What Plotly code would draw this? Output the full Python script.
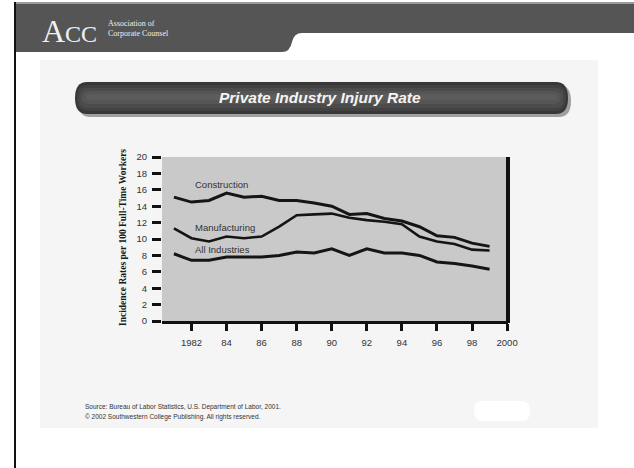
import plotly.graph_objects as go

# ---- data ----
years = list(range(1981, 2000))
construction = [15.1, 14.5, 14.7, 15.6, 15.1, 15.2, 14.7, 14.7, 14.4, 14.0,
                13.0, 13.1, 12.5, 12.2, 11.5, 10.4, 10.2, 9.5, 9.1]
manufacturing = [11.3, 10.1, 9.7, 10.3, 10.1, 10.3, 11.5, 12.9, 13.0, 13.1,
                 12.6, 12.3, 12.1, 11.8, 10.3, 9.7, 9.4, 8.7, 8.6]
all_industries = [8.2, 7.4, 7.4, 7.8, 7.8, 7.8, 8.0, 8.4, 8.3, 8.8,
                  8.0, 8.8, 8.3, 8.3, 8.0, 7.2, 7.0, 6.7, 6.3]
series_names = ["Construction", "Manufacturing", "All Industries"]
label_y = [16.6, 11.4, 8.7]
x_tickvals = [1982, 1984, 1986, 1988, 1990, 1992, 1994, 1996, 1998, 2000]
x_ticktext = ["1982", "84", "86", "88", "90", "92", "94", "96", "98", "2000"]
y_tickvals = [0, 2, 4, 6, 8, 10, 12, 14, 16, 18, 20]
title_text = "Private Industry Injury Rate"
y_title = "Incidence Rates per 100 Full-Time Workers"
source_lines = ["Source: Bureau of Labor Statistics, U.S. Department of Labor, 2001.",
                "\u00a9 2002 Southwestern College Publishing. All rights reserved."]

# ---- layout geometry (pixels) ----
FW, FH = 634, 468
L, R, T, B = 162, 508, 157, 321
PW, PH = R - L, B - T


def px(x):
    return (x - L) / PW


def py(y):
    return (B - y) / PH


def path(points, close=True):
    s = ""
    for i, p in enumerate(points):
        if p[0] == "Q":
            s += f" Q{px(p[1]):.5f},{py(p[2]):.5f} {px(p[3]):.5f},{py(p[4]):.5f}"
        else:
            s += (" M" if i == 0 else " L") + f"{px(p[0]):.5f},{py(p[1]):.5f}"
    return s.strip() + (" Z" if close else "")


def pill(x0, y0, x1, y1, r):
    return path([(x0 + r, y0), (x1 - r, y0), ("Q", x1, y0, x1, y0 + (y1 - y0) / 2),
                 ("Q", x1, y1, x1 - r, y1), (x0 + r, y1),
                 ("Q", x0, y1, x0, y0 + (y1 - y0) / 2), ("Q", x0, y0, x0 + r, y0)])


shapes = []


def add_path(d, fill, line_color=None, lw=0):
    shapes.append(dict(type="path", xref="paper", yref="paper", path=d,
                       fillcolor=fill, line=dict(color=line_color or fill, width=lw),
                       layer="below"))


def add_rect(x0, y0, x1, y1, fill, layer="below"):
    shapes.append(dict(type="rect", xref="paper", yref="paper",
                       x0=px(x0), x1=px(x1), y0=py(y1), y1=py(y0),
                       fillcolor=fill, line=dict(width=0), layer=layer))


# light panel
add_rect(40, 60, 598, 428, "#f5f5f5")
# header band
add_path(path([(16, 4), (634, 4), (634, 33), (302, 33), ("Q", 294, 33, 292, 42),
               ("Q", 290, 52, 282, 52), (16, 52)]), "#555555")
add_rect(16, 2, 634, 4, "#9a9a9a")
# left border
add_rect(14, 2, 16, 468, "#111111")
# title pill (shadow + body with soft vertical gradient)
add_path(pill(78, 85, 571, 117, 12), "#a0a0a0")
add_path(pill(75, 82, 568, 114, 12), "#383838")
add_path(pill(77, 85, 566, 111, 11), "#424242")
add_path(pill(79, 88, 564, 108, 9), "#4c4c4c")
add_path(pill(82, 91, 561, 104, 7), "#555555")
add_path(pill(86, 94, 557, 100, 4), "#5c5c5c")
# plot area
add_rect(L, T, R, B, "#c9c9c9")
# right thick border
add_rect(506, T, 510, B + 2, "#111111", layer="above")
# white logo blob
add_path(pill(474, 401, 530, 421, 8), "#ffffff")

fig = go.Figure()
for name, vals, w in zip(series_names, [construction, manufacturing, all_industries], [3, 2.6, 3]):
    fig.add_trace(go.Scatter(x=years, y=vals, mode="lines", name=name,
                             line=dict(color="#151515", width=w), showlegend=False))

annotations = []
for name, ly in zip(series_names, label_y):
    annotations.append(dict(x=1982.1, y=ly, xref="x", yref="y", text=name, showarrow=False,
                            xanchor="left", yanchor="middle",
                            font=dict(family="Liberation Sans", size=9.5, color="#333333")))

annotations.append(dict(x=px(320), y=py(98), xref="paper", yref="paper", text=f"<b><i>{title_text}</i></b>",
                        showarrow=False, xanchor="center", yanchor="middle",
                        font=dict(family="Liberation Sans", size=15.5, color="#f4f4f4")))
annotations.append(dict(x=px(123), y=py(238), xref="paper", yref="paper", text=f"<b>{y_title}</b>",
                        showarrow=False, textangle=-90, xanchor="center", yanchor="middle",
                        font=dict(family="Liberation Serif", size=9.5, color="#1a1a1a")))
for i, s in enumerate(source_lines):
    annotations.append(dict(x=px(83), y=py(407 + 10 * i), xref="paper", yref="paper", text=s,
                            showarrow=False, xanchor="left", yanchor="middle",
                            font=dict(family="Liberation Sans", size=6.5, color="#333333")))
# header logo text
annotations.append(dict(x=px(40), y=py(31), xref="paper", yref="paper", text="A<span style='font-size:24px'>CC</span>",
                        showarrow=False, xanchor="left", yanchor="middle",
                        font=dict(family="Liberation Serif", size=32, color="#f0f0f0")))
annotations.append(dict(x=px(106), y=py(28), xref="paper", yref="paper",
                        text="Association of<br>Corporate Counsel", showarrow=False,
                        xanchor="left", yanchor="middle", align="left",
                        font=dict(family="Liberation Serif", size=8, color="#eeeeee")))

fig.update_layout(
    width=FW, height=FH,
    margin=dict(l=L, r=FW - R, t=T, b=FH - B, pad=0),
    paper_bgcolor="#ffffff", plot_bgcolor="rgba(0,0,0,0)",
    shapes=shapes, annotations=annotations,
    xaxis=dict(range=[1980.32, 2000.05], tickvals=x_tickvals, ticktext=x_ticktext,
               ticks="outside", ticklen=7, tickwidth=3, tickcolor="#111111",
               showline=True, linewidth=3, linecolor="#111111", showgrid=False, zeroline=False,
               ticklabelstandoff=4,
               tickfont=dict(family="Liberation Sans", size=9.5, color="#333333")),
    yaxis=dict(range=[0, 20], tickvals=y_tickvals, ticks="outside", ticklen=9, tickwidth=3,
               tickcolor="#111111", showline=False, showgrid=False, zeroline=False,
               ticklabelstandoff=3,
               tickfont=dict(family="Liberation Sans", size=9.5, color="#333333")),
)

fig.write_html("out.html")
